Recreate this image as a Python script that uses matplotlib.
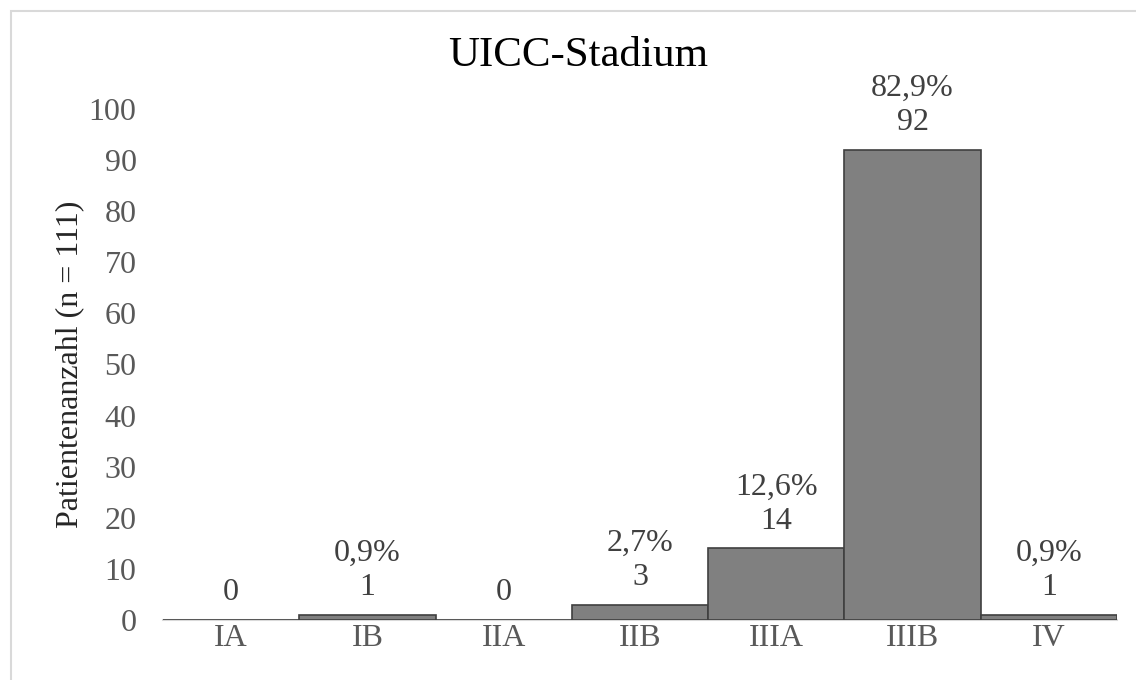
import matplotlib
matplotlib.use("Agg")
import matplotlib.pyplot as plt
from matplotlib.patches import Rectangle

categories = ["IA", "IB", "IIA", "IIB", "IIIA", "IIIB", "IV"]
counts = [0, 1, 0, 3, 14, 92, 1]
percent_labels = ["", "0,9%", "", "2,7%", "12,6%", "82,9%", "0,9%"]
yticks = [0, 10, 20, 30, 40, 50, 60, 70, 80, 90, 100]

plt.rcParams['font.family'] = ['Liberation Serif', 'DejaVu Serif']

fig = plt.figure(figsize=(11.36, 6.8), dpi=100)
ax = fig.add_axes([163/1136, 1-620/680, (1117-163)/1136, (620-109)/680])

x = list(range(len(categories)))
ax.bar(x, counts, width=1.0, color="#808080", edgecolor="#404040", linewidth=1.2, zorder=3)

for xi, c, p in zip(x, counts, percent_labels):
    txt = f"{p}\n{c}" if p else f"{c}"
    ax.annotate(txt, (xi, c), xytext=(0, 9), textcoords="offset points",
                ha="center", va="bottom", fontsize=23, color="#404040",
                linespacing=1.25)

ax.set_xlim(-0.5, len(categories) - 0.5)
ax.set_ylim(0, 100)
ax.set_yticks(yticks)
ax.set_xticks(x)
ax.set_xticklabels(categories)
ax.tick_params(axis="both", length=0, labelsize=23, labelcolor="#595959")
ax.tick_params(axis="x", pad=3)
ax.tick_params(axis="y", pad=19)
for s in ["top", "right", "left"]:
    ax.spines[s].set_visible(False)
ax.spines["bottom"].set_color("#d9d9d9")
ax.spines["bottom"].set_linewidth(1.5)
ax.spines["bottom"].set_zorder(2)

ax.set_ylabel("Patientenanzahl (n = 111)", fontsize=23, color="#262626")
ax.yaxis.set_label_coords((84-163)/954, 0.5)

fig.text(578/1136, 1-56/680, "UICC-Stadium", ha="center", va="center", fontsize=31, color="black")

fig.patches.append(Rectangle((11/1136, -0.05), 1.2, 1-11/680+0.05, transform=fig.transFigure,
                             fill=False, edgecolor="#d9d9d9", linewidth=1.5))

fig.savefig("out.png", dpi=100)
